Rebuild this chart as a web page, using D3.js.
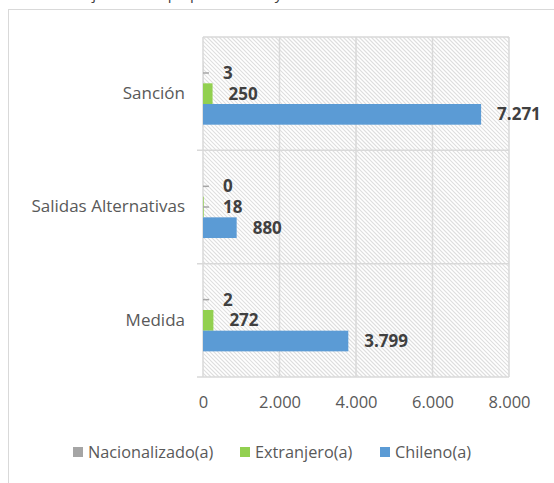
<!DOCTYPE html>
<meta charset="utf-8">
<script src="https://d3js.org/d3.v7.min.js"></script>
<style>
  body { margin: 0; background: #fff; }
  text { font-family: "Open Sans", sans-serif; }
</style>
<body>
  <div id="chart"></div>
</body>
<script>

  // datos
  var categories = ["Sanción", "Salidas Alternativas", "Medida"]
  var seriesNames = ["Nacionalizado(a)", "Extranjero(a)", "Chileno(a)"]
  var nacionalizado = [3, 0, 2]
  var extranjero = [250, 18, 272]
  var chileno = [7271, 880, 3799]
  var xTicks = [0, 2000, 4000, 6000, 8000]
  var colors = ["#a5a5a5", "#92d050", "#5b9bd5"]

  var W = 554, H = 483
  var margin = {top: 37, right: 45, bottom: 106, left: 203},
    width = W - margin.left - margin.right,
    height = H - margin.top - margin.bottom;

  var es = d3.formatLocale({decimal: ",", thousands: ".", grouping: [3], currency: ["$", ""]})
  var fmt = es.format(",d")

  var rows = categories.map(function(c, i) {
    return {cat: c, values: [nacionalizado[i], extranjero[i], chileno[i]]}
  })

  var svg = d3.select("#chart").append("svg")
    .attr("width", W)
    .attr("height", H)

  // titulo cortado arriba
  svg.append("text")
    .attr("x", 12).attr("y", -1.5)
    .style("font-size", "15px")
    .style("fill", "#404040")
    .text("Gráfico 3: Ajustes de tipo por medida y nacionalidad")

  // marco del grafico
  svg.append("rect")
    .attr("x", 8.5).attr("y", 9.5)
    .attr("width", 560).attr("height", 500)
    .style("fill", "none")
    .style("stroke", "#d9d9d9")

  var g = svg.append("g")
    .attr("transform", `translate(${margin.left},${margin.top})`)

  var x = d3.scaleLinear().domain([0, 8000]).range([0, 306])
  var y0 = d3.scaleBand().domain(categories).range([0, height])
  var y1 = d3.scaleBand().domain(seriesNames).range([0, y0.bandwidth()]).paddingOuter(1.24)

  // fondo rayado del area de trazado
  var clip = svg.append("defs").append("clipPath").attr("id", "plotclip")
  clip.append("rect").attr("width", x(8000)).attr("height", height)
  var hatchStep = 4
  var hatchN = d3.range(-Math.ceil(height / hatchStep), Math.ceil(x(8000) / hatchStep) + 1)
  g.append("g")
    .attr("clip-path", "url(#plotclip)")
    .selectAll("line")
    .data(hatchN)
    .join("line")
      .attr("x1", function(k) { return k * hatchStep })
      .attr("y1", 0)
      .attr("x2", function(k) { return k * hatchStep + height })
      .attr("y2", height)
      .style("stroke", "#dedede")
      .style("stroke-width", 1.2)

  // rejilla vertical
  g.selectAll(".vgrid")
    .data(xTicks)
    .join("line")
      .attr("x1", function(d) { return x(d) }).attr("x2", function(d) { return x(d) })
      .attr("y1", 0).attr("y2", height)
      .style("stroke", "#d9d9d9")
      .style("stroke-width", 1.5)

  // separadores de categorias
  var seps = [0].concat(categories.map(function(c) { return y0(c) + y0.bandwidth() }))
  g.selectAll(".hsep")
    .data(seps)
    .join("line")
      .attr("x1", function(d, i) { return i == 0 ? 0 : -6 }).attr("x2", x(8000))
      .attr("y1", function(d) { return d }).attr("y2", function(d) { return d })
      .style("stroke", "#d9d9d9")
      .style("stroke-width", 1.5)

  // eje x
  g.append("g")
    .attr("transform", `translate(0,${height})`)
    .call(d3.axisBottom(x).tickValues(xTicks).tickFormat(fmt).tickSize(0).tickPadding(19))
    .call(function(a) { a.select(".domain").remove() })
    .selectAll("text")
      .style("font-family", "Open Sans")
      .style("font-size", "16.5px")
      .style("fill", "#595959")

  // eje y
  g.append("g")
    .call(d3.axisLeft(y0).tickSize(0).tickPadding(18))
    .call(function(a) { a.select(".domain").remove() })
    .selectAll("text")
      .style("font-family", "Open Sans")
      .style("font-size", "17px")
      .style("fill", "#595959")

  var groups = g.selectAll(".grp")
    .data(rows)
    .join("g")
      .attr("transform", function(d) { return `translate(0,${y0(d.cat)})` })

  var cells = groups.selectAll(".cell")
    .data(function(d) { return d.values.map(function(v, i) { return {name: seriesNames[i], v: v, i: i} }) })
    .join("g")

  cells.append("rect")
    .attr("x", 0)
    .attr("y", function(d) { return y1(d.name) })
    .attr("width", function(d) { return x(d.v) })
    .attr("height", y1.bandwidth())
    .style("fill", function(d) { return colors[d.i] })

  // lineas guia para barras muy cortas
  cells.filter(function(d) { return x(d.v) < 2 })
    .append("line")
      .attr("x1", 0).attr("x2", 6)
      .attr("y1", function(d) { return y1(d.name) + y1.bandwidth() / 2 })
      .attr("y2", function(d) { return y1(d.name) + y1.bandwidth() / 2 })
      .style("stroke", "#a6a6a6")
      .style("stroke-width", 1.5)

  cells.append("text")
    .attr("x", function(d) { return Math.max(x(d.v) + 16, 20) })
    .attr("y", function(d) { return y1(d.name) + y1.bandwidth() / 2 })
    .attr("dy", "0.36em")
    .style("font-size", "17px")
    .style("font-weight", "bold")
    .style("fill", "#404040")
    .text(function(d) { return fmt(d.v) })

  // leyenda
  var legX = [73, 240, 380]
  var leg = svg.selectAll(".leg")
    .data(seriesNames)
    .join("g")
      .attr("transform", function(d, i) { return `translate(${legX[i]},452)` })
  leg.append("rect")
    .attr("x", 0).attr("y", -5)
    .attr("width", 10).attr("height", 10)
    .style("fill", function(d, i) { return colors[i] })
  leg.append("text")
    .attr("x", 15).attr("dy", "0.35em")
    .style("font-size", "16.3px")
    .style("fill", "#595959")
    .text(function(d) { return d })

</script>
